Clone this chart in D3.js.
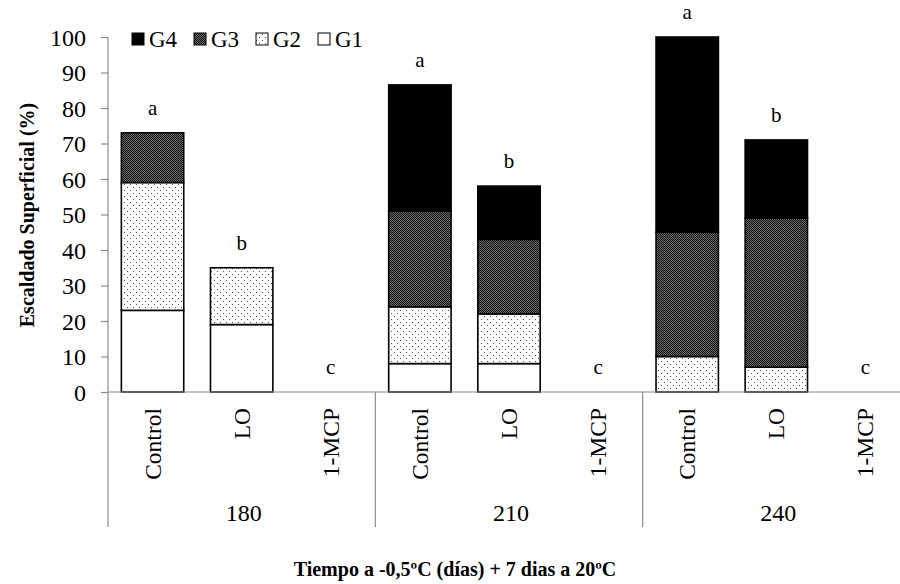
<!DOCTYPE html>
<html><head><meta charset="utf-8">
<script src="https://cdn.jsdelivr.net/npm/d3@7"></script>
<style>body{margin:0;background:#fff}svg{display:block}text{font-family:"Liberation Serif","Times New Roman",serif;fill:#000}</style>
</head><body>
<svg id="c" width="900" height="584"></svg>
<script>
const groups = ["180","210","240"];
const treatments = ["Control","LO","1-MCP"];
const seriesNames = ["G1","G2","G3","G4"];
const G1 = [23,19,0, 8,8,0, 0,0,0];
const G2 = [36,16,0, 16,14,0, 10,7,0];
const G3 = [14,0,0, 27,21,0, 35,42,0];
const G4 = [0,0,0, 35.5,15,0, 55,22,0];
const letters = ["a","b","c","a","b","c","a","b","c"];
const yTicks = [0,10,20,30,40,50,60,70,80,90,100];
const xTitle = "Tiempo a -0,5ºC (días) + 7 dias a 20ºC";
const yTitle = "Escaldado Superficial (%)";

(function(){
const FONT = "'Liberation Serif','Times New Roman',serif";
const svg = d3.select("#c");
const defs = svg.append("defs");
const p3 = defs.append("pattern").attr("id","p3").attr("patternUnits","userSpaceOnUse").attr("width",2).attr("height",2);
p3.append("rect").attr("width",2).attr("height",2).attr("fill","#6a6a6a");
p3.append("rect").attr("width",1).attr("height",1).attr("fill","#111");
p3.append("rect").attr("x",1).attr("y",1).attr("width",1).attr("height",1).attr("fill","#111");
const p2 = defs.append("pattern").attr("id","p2").attr("patternUnits","userSpaceOnUse").attr("width",6).attr("height",6);
p2.append("rect").attr("width",6).attr("height",6).attr("fill","#fff");
p2.append("rect").attr("x",1).attr("y",1).attr("width",1).attr("height",1).attr("fill","#555");
p2.append("rect").attr("x",4).attr("y",4).attr("width",1).attr("height",1).attr("fill","#555");
const fills = {G1:"#fff", G2:"url(#p2)", G3:"url(#p3)", G4:"#000"};

const pLeft = 108, pRight = 910, pTop = 37, pBase = 392, pBottom = 527;
const keys = [];
groups.forEach(g => treatments.forEach(t => keys.push(g + "|" + t)));
const x = d3.scaleBand().domain(keys).range([pLeft, pRight]).paddingInner(0.3).paddingOuter(0.15);
const xg = d3.scaleBand().domain(groups).range([pLeft, pRight]);
const y = d3.scaleLinear().domain([0,100]).range([pBase, pTop]);

const rows = keys.map((k,i) => ({key:k, G1:G1[i], G2:G2[i], G3:G3[i], G4:G4[i]}));
const stacked = d3.stack().keys(seriesNames)(rows);

stacked.forEach(s => {
  svg.append("g").selectAll("rect").data(s.filter(d => d[1] - d[0] > 0)).join("rect")
    .attr("x", d => x(d.data.key)).attr("width", x.bandwidth())
    .attr("y", d => y(d[1])).attr("height", d => y(d[0]) - y(d[1]))
    .attr("fill", fills[s.key]).attr("stroke","#000").attr("stroke-width",1.6);
});

const axisColor = "#8c8c8c";
svg.append("line").attr("x1",pLeft).attr("x2",900).attr("y1",pBase).attr("y2",pBase).attr("stroke",axisColor).attr("stroke-width",1.2);
svg.append("line").attr("x1",pLeft).attr("x2",pLeft).attr("y1",pTop).attr("y2",pBottom).attr("stroke",axisColor).attr("stroke-width",1.2);
const yAxis = svg.append("g").attr("transform",`translate(${pLeft},0)`)
  .call(d3.axisLeft(y).tickValues(yTicks).tickSize(7).tickFormat(d3.format("d")))
  .attr("font-family", FONT).attr("font-size", 24);
yAxis.select(".domain").remove();
yAxis.selectAll("line").attr("stroke",axisColor).attr("stroke-width",1.2);
yAxis.selectAll("text").attr("x",-22).attr("dy","0.34em").attr("fill","#000");

groups.forEach(g => {
  const gx = xg(g) + xg.bandwidth();
  if (gx < 900) svg.append("line").attr("x1",gx).attr("x2",gx).attr("y1",pBase).attr("y2",pBottom).attr("stroke",axisColor).attr("stroke-width",1.2);
  svg.append("text").attr("x", xg(g) + xg.bandwidth()/2 + 2).attr("y", 521).attr("text-anchor","middle").style("font-size","24px").text(g);
});

keys.forEach(k => {
  const t = k.split("|")[1];
  const cx = x(k) + x.bandwidth()/2;
  svg.append("text").attr("transform",`translate(${cx+8},408) rotate(-90)`).attr("text-anchor","end").style("font-size","23.5px").text(t);
});

rows.forEach((r,i) => {
  const tot = r.G1 + r.G2 + r.G3 + r.G4;
  svg.append("text").attr("x", x(r.key) + x.bandwidth()/2).attr("y", y(tot) - 18)
    .attr("text-anchor","middle").style("font-size","21px").text(letters[i]);
});

const legendOrder = ["G4","G3","G2","G1"];
const legX = [132, 194, 256, 318];
legendOrder.forEach((s,i) => {
  svg.append("rect").attr("x",legX[i]).attr("y",33).attr("width",12).attr("height",12)
    .attr("fill",fills[s]).attr("stroke","#000").attr("stroke-width",1);
  svg.append("text").attr("x",legX[i]+17).attr("y",47).style("font-size","23px").text(s);
});

svg.append("text").attr("x",455).attr("y",576).attr("text-anchor","middle").style("font-size","20px").style("font-weight","bold").text(xTitle);
svg.append("text").attr("transform","translate(34,215) rotate(-90)").attr("text-anchor","middle").style("font-size","20px").style("font-weight","bold").text(yTitle);
})();
</script>
</body></html>
